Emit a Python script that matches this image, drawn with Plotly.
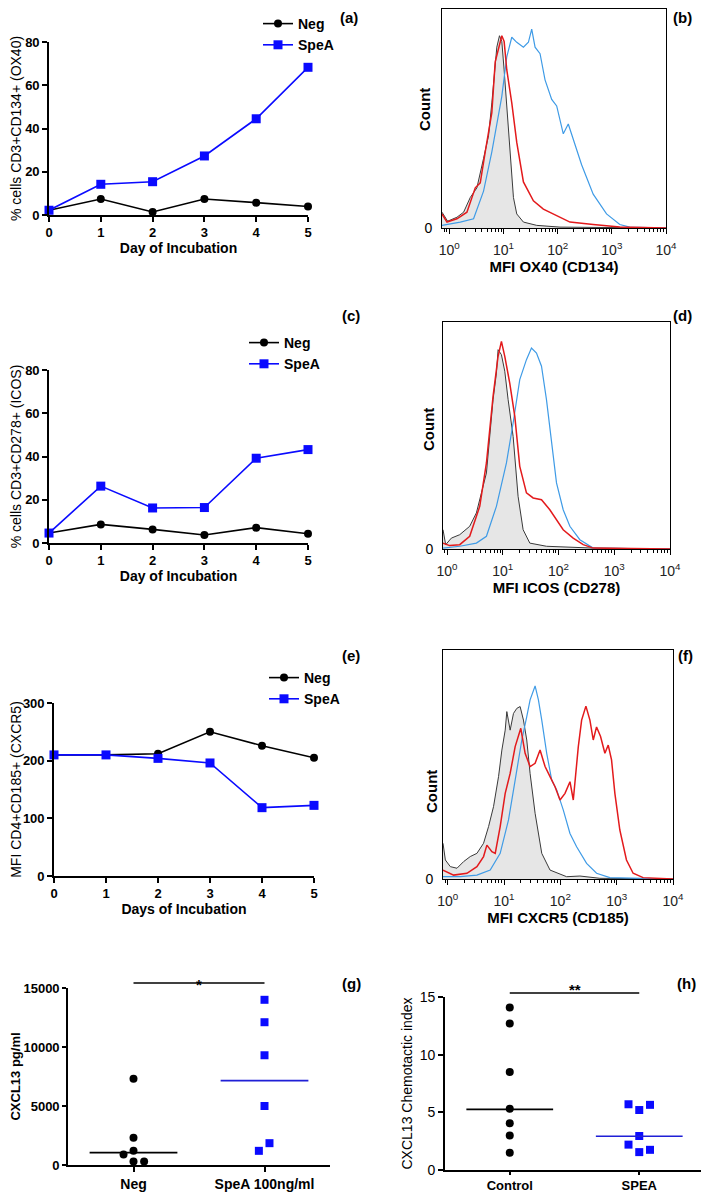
import numpy as np
import plotly.graph_objects as go

# The page body has an 8px margin, so the figure is sized to the window minus that offset
OFF = 8
W, H = 709 - OFF, 1192 - OFF
FONT = "Liberation Sans, Arial, sans-serif"

# ---------------- data ----------------
days = [0, 1, 2, 3, 4, 5]
ox40_neg = [2.2, 7.4, 1.4, 7.4, 5.7, 3.9]
ox40_spea = [2.2, 14.2, 15.4, 27.3, 44.5, 68.3]
icos_neg = [4.6, 8.6, 6.3, 3.7, 7.1, 4.3]
icos_spea = [4.6, 26.3, 16.2, 16.4, 39.2, 43.2]
cxcr5_neg = [210, 210, 212, 250, 226, 205]
cxcr5_spea = [210, 210, 204, 196, 118.5, 122.5]

g_categories = ["Neg", "SpeA 100ng/ml"]
cxcl13_neg = [7300, 2300, 1200, 900, 300, 300]
cxcl13_spea = [14000, 12100, 9300, 5000, 1850, 1200]
cxcl13_medians = [1050, 7150]
g_ticks = [0, 5000, 10000, 15000]
g_ticktext = ["0", "5000", "10000", "15000"]

h_categories = ["Control", "SPEA"]
chemo_control = [14.1, 12.7, 8.5, 5.3, 4.05, 3.0, 1.5]
chemo_spea = [5.7, 5.2, 5.65, 2.95, 2.2, 1.55, 1.75]
chemo_medians = [5.26, 2.92]

# flow histograms: x = log10(MFI), y = % of max count
ox40_black_x = [-0.135, -0.031, 0.141, 0.264, 0.387, 0.509, 0.632, 0.724, 0.785, 0.847, 0.877, 0.926, 0.969, 1.012, 1.061, 1.123, 1.184, 1.245, 1.368, 1.613, 2.043, 4.0]
ox40_black_y = [7.2, 3.1, 4.9, 7.2, 13.9, 18.3, 31.7, 42, 57, 72, 82.4, 87.6, 85, 72, 54, 31.7, 13.9, 6.4, 2.7, 1.2, 0.4, 0]
ox40_red_x = [-0.135, -0.043, 0.141, 0.325, 0.479, 0.571, 0.663, 0.785, 0.847, 0.908, 0.969, 1.012, 1.061, 1.153, 1.245, 1.368, 1.552, 1.736, 1.982, 2.227, 2.656, 3.147, 4.0]
ox40_red_y = [6.4, 2.7, 4.2, 7.2, 18.3, 20.6, 34.7, 52.6, 75.7, 82.4, 87.6, 85, 72, 57, 39, 21, 12.4, 8.6, 5.7, 2.7, 1.6, 0.4, 0]
ox40_blue_x = [-0.135, 0.202, 0.448, 0.632, 0.785, 0.877, 0.969, 1.061, 1.153, 1.245, 1.368, 1.460, 1.521, 1.583, 1.675, 1.767, 1.890, 1.982, 2.104, 2.196, 2.288, 2.442, 2.656, 2.902, 3.147, 3.331, 4.0]
ox40_blue_y = [1.2, 2.7, 4.2, 16.8, 34.7, 48, 60, 78, 86.9, 84.6, 82.4, 84.6, 90.6, 82.4, 79.4, 67.5, 58.6, 55.6, 42.9, 47.4, 40.7, 28.8, 15.4, 6.4, 1.6, 0.4, 0]

icos_black_x = [-0.072, -0.024, 0.078, 0.228, 0.407, 0.527, 0.707, 0.826, 0.886, 0.916, 0.976, 1.036, 1.096, 1.186, 1.275, 1.365, 1.485, 1.784, 2.623, 4.0]
icos_black_y = [8.5, 1.9, 4.8, 6.3, 10, 15.9, 33.5, 65.8, 77.5, 87.8, 85.6, 78.3, 65.8, 49.6, 23.2, 8.5, 2.6, 1.2, 0.4, 0]
icos_red_x = [-0.072, 0.048, 0.228, 0.407, 0.587, 0.707, 0.826, 0.916, 0.976, 1.036, 1.126, 1.216, 1.305, 1.425, 1.545, 1.695, 1.844, 1.964, 2.084, 2.263, 2.443, 2.623, 4.0]
icos_red_y = [2.6, 1.5, 1.9, 5.6, 18.8, 37.9, 67.3, 84.9, 91.5, 84.9, 73, 58.4, 36.4, 24.7, 22.5, 21.7, 17.3, 12.9, 8.5, 4.8, 1.9, 0.4, 0]
icos_blue_x = [-0.072, 0.228, 0.527, 0.707, 0.886, 1.066, 1.186, 1.305, 1.425, 1.515, 1.605, 1.695, 1.784, 1.874, 1.964, 2.084, 2.204, 2.383, 2.623, 4.0]
icos_blue_y = [0.4, 1.2, 2.6, 5.6, 18.8, 37.9, 55.5, 74.6, 83.4, 88.5, 86.3, 80.5, 65.8, 46.7, 29.1, 17.3, 10, 4.1, 0.4, 0]

cxcr5_black_x = [-0.083, -0.041, 0.047, 0.165, 0.283, 0.401, 0.519, 0.637, 0.726, 0.814, 0.903, 0.962, 1.021, 1.050, 1.109, 1.168, 1.227, 1.286, 1.345, 1.404, 1.463, 1.552, 1.670, 1.817, 2.112, 2.348, 2.702, 4.0]
cxcr5_black_y = [15.6, 8.3, 5.4, 4.7, 7.6, 9.8, 11.2, 15.6, 22.9, 31.6, 44.7, 56.3, 65, 73.1, 65, 72.3, 74.5, 75.3, 69.4, 60.7, 46.1, 28.7, 11.2, 3.9, 1, 1.3, 0.3, 0]
cxcr5_red_x = [-0.083, 0.106, 0.342, 0.519, 0.637, 0.696, 0.785, 0.844, 0.932, 1.021, 1.109, 1.198, 1.298, 1.375, 1.463, 1.552, 1.640, 1.729, 1.817, 1.906, 1.994, 2.083, 2.171, 2.230, 2.319, 2.378, 2.454, 2.525, 2.584, 2.643, 2.714, 2.791, 2.850, 2.909, 2.968, 3.056, 3.174, 3.292, 3.469, 4.0]
cxcr5_red_y = [3.9, 1.7, 2.5, 5.4, 9.8, 14.8, 11.9, 11.2, 22.9, 37.4, 46.1, 57.8, 65.8, 54.9, 49.1, 50.5, 56.3, 49.1, 44.7, 40.3, 34.5, 37.4, 42.5, 34.5, 57.8, 69.4, 75.5, 69.4, 60.7, 66.4, 62.2, 54.9, 58.5, 52, 37.4, 21.4, 8.3, 2.5, 0.6, 0]
cxcr5_blue_x = [-0.083, 0.224, 0.519, 0.755, 0.932, 1.080, 1.198, 1.316, 1.404, 1.463, 1.552, 1.611, 1.670, 1.758, 1.847, 1.935, 2.053, 2.171, 2.289, 2.466, 2.643, 2.879, 4.0]
cxcr5_blue_y = [1, 1, 1.7, 3.9, 11.2, 25.8, 43.2, 60.7, 70.9, 78.2, 84.3, 78.2, 69.4, 54.9, 43.2, 38.9, 30.1, 19.9, 14.1, 6.8, 2.5, 0.6, 0]

decade_ticks = [0, 1, 2, 3, 4]
decade_labels = ["10<sup>0</sup>", "10<sup>1</sup>", "10<sup>2</sup>", "10<sup>3</sup>", "10<sup>4</sup>"]

# ---------------- layout helpers (window pixel -> paper) ----------------
def PX(x):
    return min(max((x - OFF) / W, 0.0), 1.0)

def PY(y):
    return min(max(1 - (y - OFF) / H, 0.0), 1.0)

def dx(x0, x1):
    return [PX(x0), PX(x1)]

def dy(top, bottom):
    return [PY(bottom), PY(top)]

def ref(i, a):
    return a if i == 1 else f"{a}{i}"

def key(i, a):
    return f"{a}axis" if i == 1 else f"{a}axis{i}"

def prism_axis(domain, anchor, rng, tickvals, ticktext, title, standoff, tsize=13,
               tweight="bold", ttl_weight="bold", ttl_size=14, ticklen=5):
    d = dict(domain=domain, anchor=anchor, range=rng, tickmode="array", tickvals=tickvals,
             showline=True, linecolor="black", linewidth=1.6,
             ticks="outside", ticklen=ticklen, tickwidth=1.6, tickcolor="black",
             showgrid=False, zeroline=False, automargin=False, fixedrange=True,
             tickfont=dict(family=FONT, color="black", size=tsize, weight=tweight))
    if ticktext is not None:
        d["ticktext"] = ticktext
    if title:
        d["title"] = dict(text=title, standoff=standoff,
                          font=dict(family=FONT, color="black", size=ttl_size, weight=ttl_weight))
    return d

minor_vals = []
for k in range(-1, 4):
    for m in range(2, 10):
        v = k + np.log10(m)
        if -0.14 < v < 4:
            minor_vals.append(float(v))

def flow_x(domain, anchor, rng, title):
    return dict(domain=domain, anchor=anchor, range=rng, tickmode="array", tickvals=decade_ticks,
                ticktext=decade_labels, showline=True, mirror=True, linecolor="black", linewidth=1,
                ticks="outside", ticklen=5, tickwidth=1, tickcolor="black",
                minor=dict(ticks="outside", ticklen=3, tickwidth=1, tickcolor="black",
                           tickmode="array", tickvals=minor_vals),
                showgrid=False, zeroline=False, automargin=False, fixedrange=True,
                ticklabelstandoff=4,
                tickfont=dict(family=FONT, color="#222", size=14),
                title=dict(text=title, standoff=4,
                           font=dict(family=FONT, color="black", size=15, weight="bold")))

def flow_y(domain, anchor):
    return dict(domain=domain, anchor=anchor, range=[0, 100], tickmode="array", tickvals=[0],
                ticktext=["0"], showline=True, mirror=True, linecolor="black", linewidth=1,
                ticks="", showgrid=False, zeroline=False, automargin=False, fixedrange=True,
                ticklabelstandoff=6,
                tickfont=dict(family=FONT, color="black", size=14))

fig = go.Figure()

# ---------------- line charts (a), (c), (e) ----------------
def add_lines(i, neg, spea, legend):
    fig.add_trace(go.Scatter(x=days, y=neg, name="Neg", mode="lines+markers",
                             line=dict(color="black", width=1.6),
                             marker=dict(symbol="circle", size=8, color="black"),
                             xaxis=ref(i, "x"), yaxis=ref(i, "y"), legend=legend, cliponaxis=False))
    fig.add_trace(go.Scatter(x=days, y=spea, name="SpeA", mode="lines+markers",
                             line=dict(color="#0a0aff", width=1.6),
                             marker=dict(symbol="square", size=9, color="#0a0aff"),
                             xaxis=ref(i, "x"), yaxis=ref(i, "y"), legend=legend, cliponaxis=False))

add_lines(1, ox40_neg, ox40_spea, "legend")
add_lines(3, icos_neg, icos_spea, "legend2")
add_lines(5, cxcr5_neg, cxcr5_spea, "legend3")

# ---------------- flow histograms (b), (d), (f) ----------------
def add_hist(i, bx, by, blx, bly, rx, ry):
    fig.add_trace(go.Scatter(x=bx, y=by, mode="lines", line=dict(color="#3a3a3a", width=1),
                             fill="tozeroy", fillcolor="#e6e6e6", showlegend=False,
                             xaxis=ref(i, "x"), yaxis=ref(i, "y")))
    fig.add_trace(go.Scatter(x=blx, y=bly, mode="lines", line=dict(color="#3f9be6", width=1.2),
                             showlegend=False, xaxis=ref(i, "x"), yaxis=ref(i, "y")))
    fig.add_trace(go.Scatter(x=rx, y=ry, mode="lines", line=dict(color="#e31a1c", width=1.5),
                             showlegend=False, xaxis=ref(i, "x"), yaxis=ref(i, "y")))

add_hist(2, ox40_black_x, ox40_black_y, ox40_blue_x, ox40_blue_y, ox40_red_x, ox40_red_y)
add_hist(4, icos_black_x, icos_black_y, icos_blue_x, icos_blue_y, icos_red_x, icos_red_y)
add_hist(6, cxcr5_black_x, cxcr5_black_y, cxcr5_blue_x, cxcr5_blue_y, cxcr5_red_x, cxcr5_red_y)

# ---------------- dot plots (g), (h) ----------------
g_neg_jitter = [0, 0, 0, -0.076, 0, 0.081]
g_spea_jitter = [0, 0, 0, 0, 0.038, -0.043]
h_ctrl_jitter = [0, 0, 0, 0, 0, 0, 0]
h_spea_jitter = [-0.083, 0, 0.083, 0, -0.083, 0, 0.083]

def add_dots(i, a_vals, a_jit, b_vals, b_jit, medians):
    fig.add_trace(go.Scatter(x=[0 + j for j in a_jit], y=a_vals, mode="markers",
                             marker=dict(symbol="circle", size=8, color="black"), showlegend=False,
                             xaxis=ref(i, "x"), yaxis=ref(i, "y"), cliponaxis=False))
    fig.add_trace(go.Scatter(x=[1 + j for j in b_jit], y=b_vals, mode="markers",
                             marker=dict(symbol="square", size=8, color="#0a0aff"), showlegend=False,
                             xaxis=ref(i, "x"), yaxis=ref(i, "y"), cliponaxis=False))
    for c, col in zip([0, 1], ["black", "#1f1fd6"]):
        fig.add_trace(go.Scatter(x=[c - 0.335, c + 0.335], y=[medians[c], medians[c]], mode="lines",
                                 line=dict(color=col, width=1.6), showlegend=False,
                                 xaxis=ref(i, "x"), yaxis=ref(i, "y")))

add_dots(7, cxcl13_neg, g_neg_jitter, cxcl13_spea, g_spea_jitter, cxcl13_medians)
add_dots(8, chemo_control, h_ctrl_jitter, chemo_spea, h_spea_jitter, chemo_medians)

# ---------------- layout ----------------
layout = dict(
    width=W, height=H, margin=dict(l=0, r=0, t=0, b=0), autosize=False,
    template=go.layout.Template(), paper_bgcolor="white", plot_bgcolor="rgba(0,0,0,0)",
    font=dict(family=FONT, color="black"), showlegend=True,
)

layout[key(1, "x")] = prism_axis(dx(49, 308), "y", [0, 5], days, None, "Day of Incubation", 4)
layout[key(1, "y")] = prism_axis(dy(42, 215), "x", [0, 80], [0, 20, 40, 60, 80], None,
                                 "% cells CD3+CD134+ (OX40)", 5, ttl_weight="normal")
layout[key(3, "x")] = prism_axis(dx(49, 308), "y3", [0, 5], days, None, "Day of Incubation", 4)
layout[key(3, "y")] = prism_axis(dy(370, 543), "x3", [0, 80], [0, 20, 40, 60, 80], None,
                                 "% cells CD3+CD278+ (ICOS)", 5, ttl_weight="normal")
layout[key(5, "x")] = prism_axis(dx(54, 314), "y5", [0, 5], days, None, "Days of Incubation", 4)
layout[key(5, "y")] = prism_axis(dy(703, 876), "x5", [0, 300], [0, 100, 200, 300], None,
                                 "MFI CD4+CD185+ (CXCR5)", 4, ttl_weight="normal")

layout[key(2, "x")] = flow_x(dx(442, 666), "y2", [-0.135, 4.0], "MFI OX40 (CD134)")
layout[key(2, "y")] = flow_y(dy(8.5, 228), "x2")
layout[key(4, "x")] = flow_x(dx(443, 670), "y4", [-0.072, 4.0], "MFI ICOS (CD278)")
layout[key(4, "y")] = flow_y(dy(322, 549), "x4")
layout[key(6, "x")] = flow_x(dx(443, 673), "y6", [-0.083, 4.0], "MFI CXCR5 (CD185)")
layout[key(6, "y")] = flow_y(dy(650, 879), "x6")

layout[key(7, "x")] = prism_axis(dx(68, 330), "y7", [-0.5, 1.5], [0, 1], g_categories, None, 0, tsize=14)
layout[key(7, "y")] = prism_axis(dy(988, 1165), "x7", [0, 15000], g_ticks, g_ticktext,
                                 "CXCL13 pg/ml", 0, tsize=13, ttl_size=13, ticklen=4)
layout[key(8, "x")] = prism_axis(dx(445, 704), "y8", [-0.5, 1.5], [0, 1], h_categories, None, 0,
                                 tsize=13, ticklen=3)
layout[key(8, "y")] = prism_axis(dy(997, 1170), "x8", [0, 15], [0, 5, 10, 15], None,
                                 "CXCL13 Chemotactic index", 4, tsize=14, tweight="normal",
                                 ttl_weight="normal")

leg_common = dict(xanchor="left", yanchor="top", bgcolor="rgba(0,0,0,0)", borderwidth=0,
                  font=dict(family=FONT, size=14, color="black", weight="bold"),
                  tracegroupgap=0, itemclick=False, itemdoubleclick=False)
layout["legend"] = dict(x=PX(258), y=PY(8), **leg_common)
layout["legend2"] = dict(x=PX(244), y=PY(327), **leg_common)
layout["legend3"] = dict(x=PX(264), y=PY(662), **leg_common)

ann = []
def panel_label(text, x, y):
    ann.append(dict(text=text, x=PX(x), y=PY(y), xref="paper", yref="paper", showarrow=False,
                    xanchor="center", yanchor="middle",
                    font=dict(family=FONT, size=15, color="black", weight="bold")))

panel_label("(a)", 349, 18)
panel_label("(b)", 682, 18)
panel_label("(c)", 351, 315)
panel_label("(d)", 682, 315)
panel_label("(e)", 351, 655)
panel_label("(f)", 685, 655)
panel_label("(g)", 351, 983)
panel_label("(h)", 686, 983)

for xc, yc in [(424, 110), (429, 430), (431, 792)]:
    ann.append(dict(text="Count", x=PX(xc), y=PY(yc), xref="paper", yref="paper", showarrow=False,
                    textangle=-90, xanchor="center", yanchor="middle",
                    font=dict(family=FONT, size=15, color="black", weight="bold")))

# significance bars
shapes = [
    dict(type="line", xref="x7", yref="paper", x0=0, x1=1, y0=PY(983), y1=PY(983),
         line=dict(color="black", width=1.6)),
    dict(type="line", xref="x8", yref="paper", x0=0, x1=1, y0=PY(993), y1=PY(993),
         line=dict(color="black", width=1.6)),
]
ann.append(dict(text="*", x=0.5, xref="x7", y=PY(984), yref="paper", showarrow=False,
                xanchor="center", yanchor="middle",
                font=dict(family=FONT, size=15, color="black", weight="bold")))
ann.append(dict(text="**", x=0.5, xref="x8", y=PY(989), yref="paper", showarrow=False,
                xanchor="center", yanchor="middle",
                font=dict(family=FONT, size=15, color="black", weight="bold")))

layout["annotations"] = ann
layout["shapes"] = shapes
fig.update_layout(**layout)

fig.write_html("out.html")
